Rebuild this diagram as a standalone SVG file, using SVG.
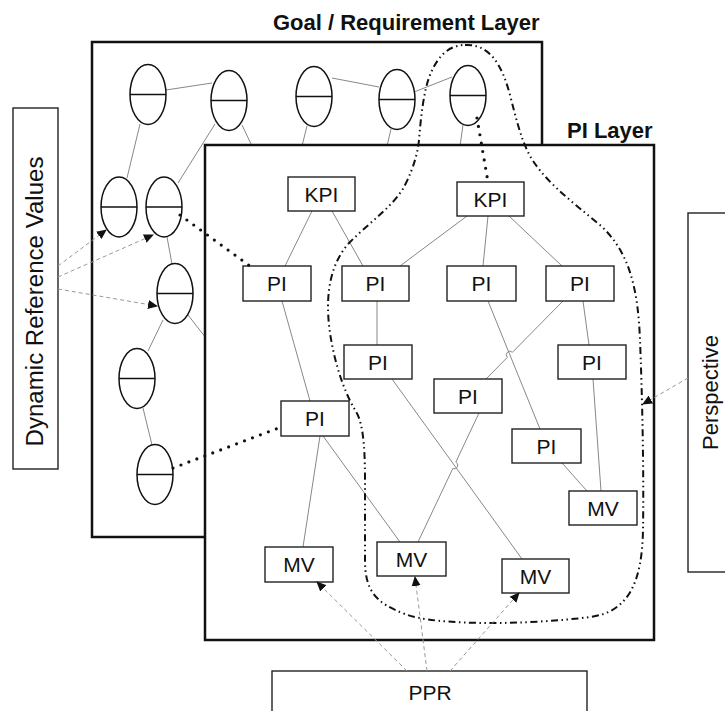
<svg xmlns="http://www.w3.org/2000/svg" width="725" height="711" viewBox="0 0 725 711">
<style>
text{font-family:"Liberation Sans",Arial,sans-serif;fill:#111}
.layer{fill:#fff;stroke:#111;stroke-width:2.5}
.box{fill:#fff;stroke:#222;stroke-width:1.4}
.node{fill:#fff;stroke:#222;stroke-width:1.4}
.ell{fill:#fff;stroke:#111;stroke-width:1.5}
.lbl{font-size:21px;text-anchor:middle}
.title{font-size:22px;font-weight:bold}
.thin{fill:none;stroke:#888;stroke-width:1}
.dash{fill:none;stroke:#999;stroke-width:1;stroke-dasharray:4 3}
.dots{fill:none;stroke:#111;stroke-width:3.2;stroke-linecap:round;stroke-dasharray:0 8.5}
.contour{fill:none;stroke:#111;stroke-width:2;stroke-dasharray:7 3.5 1.5 3.5 1.5 3.5}
</style>
<defs>
<marker id="ah" markerWidth="10" markerHeight="10" refX="9" refY="5" orient="auto" markerUnits="userSpaceOnUse">
<path d="M0,0.5 L10,5 L0,9.5 Z" fill="#111"/>
</marker>
<g id="ellshape">
<ellipse cx="0" cy="0" rx="18" ry="30" class="ell"/>
<line x1="-18" y1="0" x2="18" y2="0" stroke="#111" stroke-width="1.5"/>
</g>
</defs>

<!-- Goal / Requirement layer -->
<g id="goal-layer">
<rect x="92" y="42" width="450" height="495" class="layer"/>
<text x="273" y="30" class="title">Goal / Requirement Layer</text>
</g>

<g id="goal-connectors">
<line x1="166" y1="90" x2="212" y2="83" class="thin"/>
<line x1="332" y1="78" x2="379" y2="87" class="thin"/>
<line x1="414" y1="92" x2="452" y2="77" class="thin"/>
<line x1="140" y1="124" x2="127" y2="178" class="thin"/>
<line x1="215" y1="124" x2="178" y2="183" class="thin"/>
<line x1="242" y1="125" x2="252" y2="146" class="thin"/>
<line x1="307" y1="126" x2="302" y2="146" class="thin"/>
<line x1="391" y1="129" x2="387" y2="146" class="thin"/>
<line x1="463" y1="125" x2="460" y2="146" class="thin"/>
<line x1="167" y1="237" x2="172" y2="264" class="thin"/>
<line x1="163" y1="320" x2="148" y2="351" class="thin"/>
<line x1="188" y1="315" x2="206" y2="338" class="thin"/>
<line x1="143" y1="408" x2="152" y2="445" class="thin"/>
</g>

<g id="g1"><use href="#ellshape" x="148" y="94.5"/></g>
<g id="g2"><use href="#ellshape" x="229" y="100.5"/></g>
<g id="g3"><use href="#ellshape" x="314" y="96.5"/></g>
<g id="g4"><use href="#ellshape" x="397" y="99.5"/></g>
<g id="g5"><use href="#ellshape" x="468" y="95.5"/></g>
<g id="g6"><use href="#ellshape" x="119" y="207"/></g>
<g id="g7"><use href="#ellshape" x="164" y="207"/></g>
<g id="g8"><use href="#ellshape" x="175" y="293.5"/></g>
<g id="g9"><use href="#ellshape" x="137" y="378.5"/></g>
<g id="g10"><use href="#ellshape" x="155" y="474.5"/></g>

<!-- PI layer -->
<g id="pi-layer">
<rect x="205" y="145" width="449" height="495" class="layer"/>
<text x="567" y="138" class="title">PI Layer</text>
</g>

<g id="pi-connectors">
<line x1="312" y1="211" x2="285" y2="266" class="thin"/>
<line x1="332" y1="211" x2="363" y2="266" class="thin"/>
<line x1="467" y1="216" x2="400" y2="266" class="thin"/>
<line x1="488" y1="216" x2="483" y2="266" class="thin"/>
<line x1="509" y1="216" x2="562" y2="266" class="thin"/>
<line x1="377" y1="301" x2="377" y2="345" class="thin"/>
<line x1="488" y1="301" x2="540" y2="429" class="thin"/>
<path d="M563,301 L512.4,352.3 A3.5,3.5 0 0 0 507.4,357.3 L486,379" class="thin"/>
<line x1="583" y1="301" x2="589" y2="345" class="thin"/>
<line x1="593" y1="379" x2="601" y2="491" class="thin"/>
<line x1="392" y1="379" x2="522" y2="559" class="thin"/>
<path d="M479,413 L455.8,462.1 A3.5,3.5 0 0 1 452.8,468.5 L418,542" class="thin"/>
<line x1="562" y1="463" x2="587" y2="491" class="thin"/>
<line x1="282" y1="301" x2="310" y2="401" class="thin"/>
<line x1="320" y1="436" x2="303" y2="547" class="thin"/>
<line x1="323" y1="436" x2="400" y2="542" class="thin"/>
</g>

<g id="kpi1"><rect x="288" y="177" width="67" height="34" class="node"/><text x="321.5" y="201.5" class="lbl">KPI</text></g>
<g id="kpi2"><rect x="457" y="182" width="67" height="34" class="node"/><text x="490.5" y="206.5" class="lbl">KPI</text></g>
<g id="pi-a"><rect x="243" y="266" width="68" height="35" class="node"/><text x="277" y="291" class="lbl">PI</text></g>
<g id="pi-b"><rect x="342" y="266" width="67" height="35" class="node"/><text x="375.5" y="291" class="lbl">PI</text></g>
<g id="pi-c"><rect x="447" y="266" width="69" height="35" class="node"/><text x="481.5" y="291" class="lbl">PI</text></g>
<g id="pi-d"><rect x="546" y="266" width="68" height="35" class="node"/><text x="580" y="291" class="lbl">PI</text></g>
<g id="pi-e"><rect x="344" y="345" width="68" height="34" class="node"/><text x="378" y="369.5" class="lbl">PI</text></g>
<g id="pi-f"><rect x="558" y="345" width="68" height="34" class="node"/><text x="592" y="369.5" class="lbl">PI</text></g>
<g id="pi-g"><rect x="434" y="379" width="68" height="34" class="node"/><text x="468" y="403.5" class="lbl">PI</text></g>
<g id="pi-h"><rect x="512" y="429" width="69" height="34" class="node"/><text x="546.5" y="453.5" class="lbl">PI</text></g>
<g id="pi-i"><rect x="281" y="401" width="68" height="35" class="node"/><text x="315" y="426" class="lbl">PI</text></g>
<g id="mv1"><rect x="265" y="547" width="68" height="35" class="node"/><text x="299" y="572" class="lbl">MV</text></g>
<g id="mv2"><rect x="377" y="542" width="69" height="34" class="node"/><text x="411.5" y="566.5" class="lbl">MV</text></g>
<g id="mv3"><rect x="502" y="559" width="67" height="34" class="node"/><text x="535.5" y="583.5" class="lbl">MV</text></g>
<g id="mv4"><rect x="569" y="491" width="68" height="34" class="node"/><text x="603" y="515.5" class="lbl">MV</text></g>

<!-- perspective contour -->
<g id="perspective-contour">
<path class="contour" d="M465,45 C490,44 502,65 510,95 C516,118 520,135 527,150 C540,178 570,200 600,225 C630,252 638,290 640,340 C642,390 644,470 643,530 C642,580 630,612 590,617 C560,621 520,623 493,623 C450,623 420,620 405,614 C375,603 365,590 365,560 L365,480 C365,440 362,420 355,410 C340,385 328,340 328,307 C328,280 335,258 350,242 C370,222 395,205 405,185 C415,165 418,150 419,140 C421,115 424,90 430,75 C438,55 450,45 465,45 Z"/>
</g>

<!-- side boxes -->
<g id="dynamic-reference-values">
<rect x="13" y="108" width="45" height="361" class="box"/>
<text transform="translate(43,301.5) rotate(-90)" font-size="23" text-anchor="middle" textLength="290" lengthAdjust="spacingAndGlyphs">Dynamic Reference Values</text>
</g>
<g id="perspective">
<rect x="688" y="213" width="60" height="359" class="box"/>
<text transform="translate(718,392.5) rotate(-90)" font-size="22" text-anchor="middle">Perspective</text>
</g>
<g id="ppr">
<rect x="272" y="671" width="315" height="60" class="box"/>
<text x="430" y="700" class="lbl">PPR</text>
</g>

<g id="cross-connectors">
<line x1="58" y1="266" x2="106" y2="230" class="dash" marker-end="url(#ah)"/>
<line x1="58" y1="277" x2="153" y2="235" class="dash" marker-end="url(#ah)"/>
<line x1="58" y1="289" x2="157" y2="306" class="dash" marker-end="url(#ah)"/>
<line x1="688" y1="378" x2="643" y2="404" class="dash" marker-end="url(#ah)"/>
<line x1="407" y1="671" x2="317" y2="582" class="dash" marker-end="url(#ah)"/>
<line x1="427" y1="671" x2="415" y2="577" class="dash" marker-end="url(#ah)"/>
<line x1="450" y1="671" x2="519" y2="593" class="dash" marker-end="url(#ah)"/>
<line x1="180" y1="215" x2="250" y2="266" class="dots"/>
<line x1="477" y1="118" x2="488" y2="182" class="dots"/>
<line x1="173" y1="468" x2="281" y2="427" class="dots"/>
</g>
</svg>
